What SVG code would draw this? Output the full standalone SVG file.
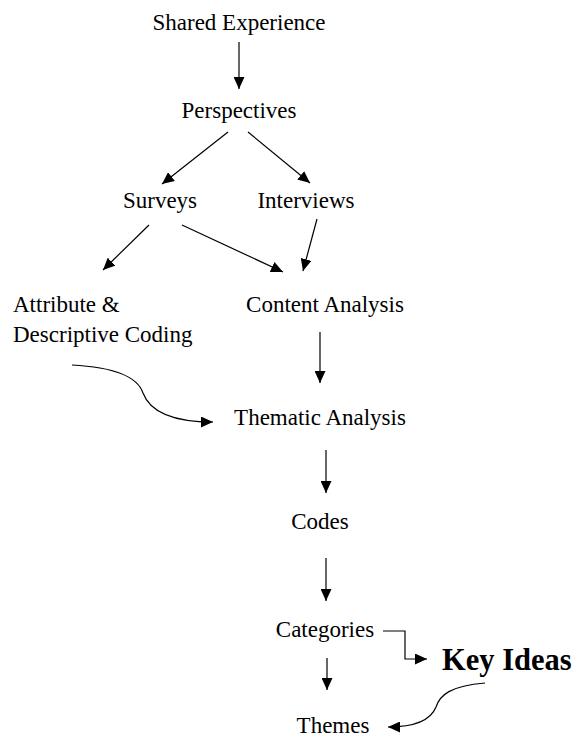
<svg xmlns="http://www.w3.org/2000/svg" width="576" height="742" viewBox="0 0 576 742">
<defs>
<marker id="ah" markerUnits="userSpaceOnUse" markerWidth="12" markerHeight="11" refX="12" refY="5.5" orient="auto">
<path d="M0,0 L12,5.5 L0,11 z" fill="#000"/>
</marker>
<style>
.t{font-family:"Liberation Serif","Times New Roman",serif;font-size:23px;fill:#000}
.c{text-anchor:middle}
.b{font-weight:bold;font-size:30.5px}
.e{fill:none;stroke:#000;stroke-width:1.2;marker-end:url(#ah)}
</style>
</defs>
<rect width="576" height="742" fill="#fff"/>
<g id="n-shared"><text class="t c" x="239" y="30">Shared Experience</text></g>
<g id="n-perspectives"><text class="t c" x="239" y="118">Perspectives</text></g>
<g id="n-surveys"><text class="t c" x="160" y="208">Surveys</text></g>
<g id="n-interviews"><text class="t c" x="306" y="208">Interviews</text></g>
<g id="n-attribute"><text class="t" x="13" y="312">Attribute &amp;</text><text class="t" x="13" y="342">Descriptive Coding</text></g>
<g id="n-content"><text class="t c" x="325" y="312">Content Analysis</text></g>
<g id="n-thematic"><text class="t c" x="320" y="425">Thematic Analysis</text></g>
<g id="n-codes"><text class="t c" x="320" y="529">Codes</text></g>
<g id="n-categories"><text class="t c" x="325" y="637">Categories</text></g>
<g id="n-keyideas"><text class="t b" x="442" y="670">Key Ideas</text></g>
<g id="n-themes"><text class="t c" x="333" y="733">Themes</text></g>
<g id="connectors">
<path class="e" d="M239,42 L239,89"/>
<path class="e" d="M228,132 L162,184"/>
<path class="e" d="M248,132 L310,183"/>
<path class="e" d="M149,225 L103,270"/>
<path class="e" d="M182,225 L283,272"/>
<path class="e" d="M317,219 L303,271"/>
<path class="e" d="M320,332 L320,383"/>
<path class="e" d="M72,365 C110,367 137,375 143,393 C150,412 172,422 213,422"/>
<path class="e" d="M326,450 L326,493"/>
<path class="e" d="M326,558 L326,601"/>
<path class="e" d="M383,631 L405,631 L405,659 L427,659"/>
<path class="e" d="M327,658 L327,690"/>
<path class="e" d="M485,683 C450,686 440,695 436,707 C430,722 410,727 388,727"/>
</g>
</svg>
